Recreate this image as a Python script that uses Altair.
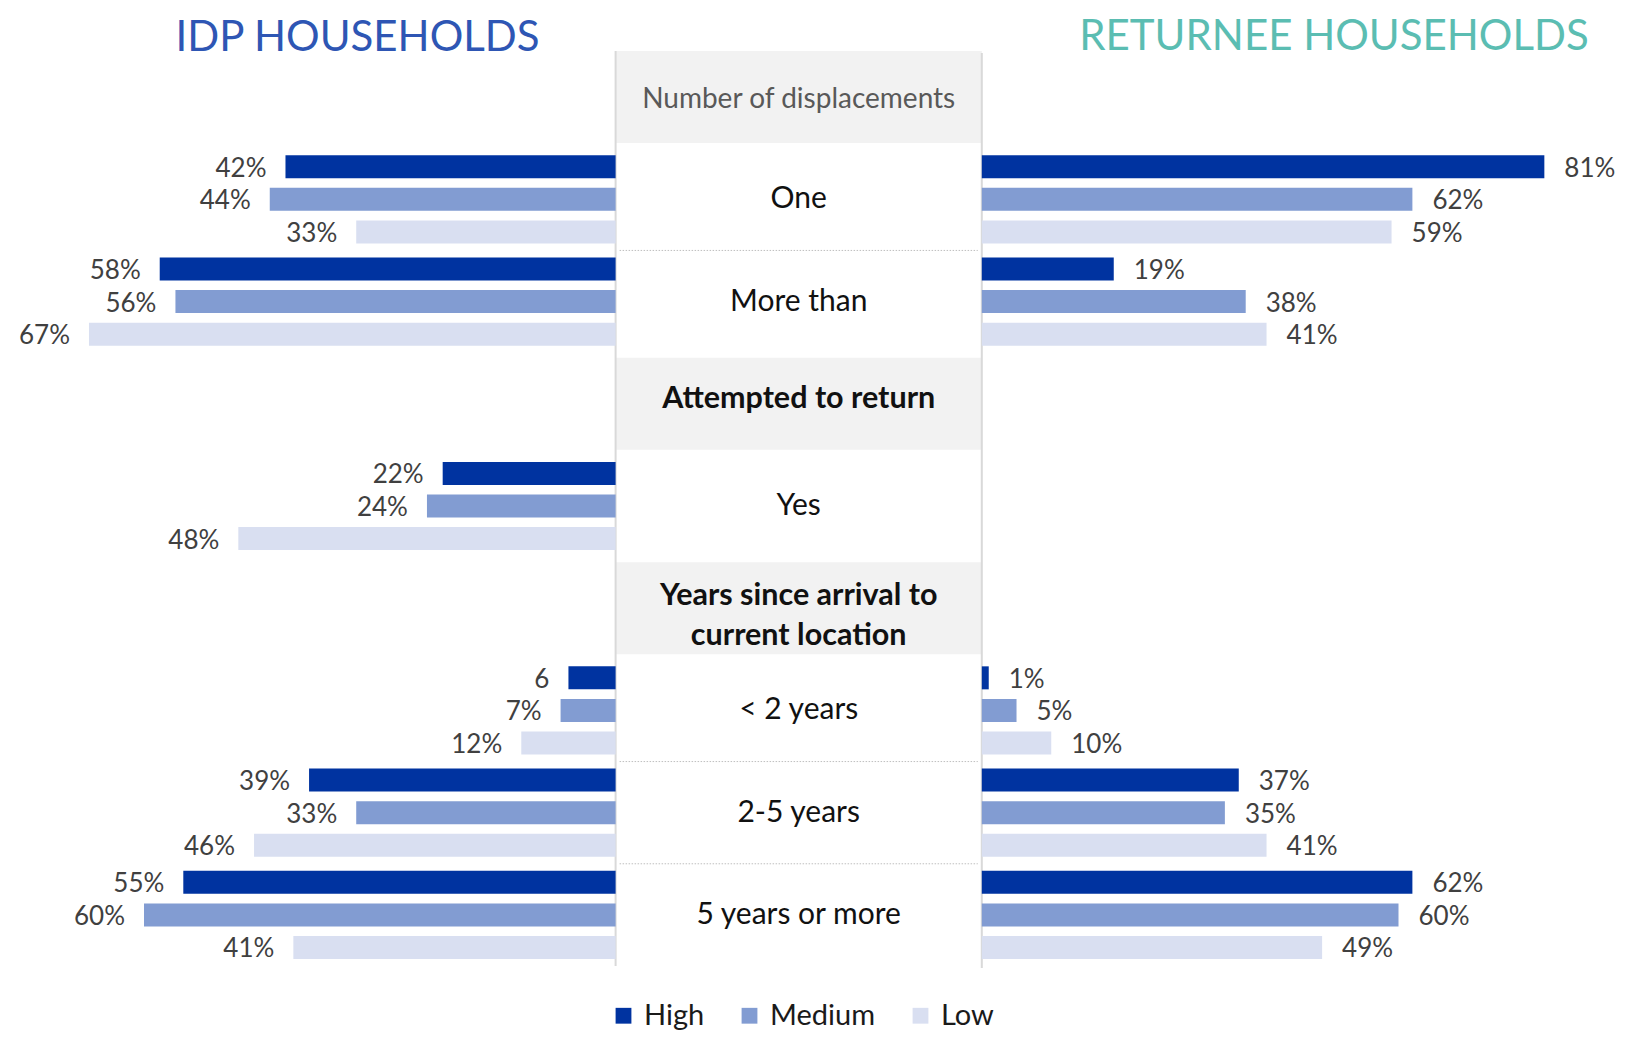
import altair as alt
import pandas as pd

# ---------------- data ----------------
rows = [
    "Number of displacements", "One", "More than",
    "Attempted to return", "Yes",
    "Years since arrival to current location", "< 2 years", "2-5 years", "5 years or more",
]
headers = ["Number of displacements", "Attempted to return", "Years since arrival to current location"]
header_text = ["Number of displacements", "Attempted to return", "Years since arrival to\ncurrent location"]
categories = ["One", "More than", "Yes", "< 2 years", "2-5 years", "5 years or more"]
levels = ["High", "Medium", "Low"]
colors = ["#0033A0", "#829CD2", "#D9DFF1"]

idp_high = [42, 58, 22, 6, 39, 55]
idp_medium = [44, 56, 24, 7, 33, 60]
idp_low = [33, 67, 48, 12, 46, 41]
idp_high_labels = ["42%", "58%", "22%", "6", "39%", "55%"]

ret_categories = ["One", "More than", "< 2 years", "2-5 years", "5 years or more"]
ret_high = [81, 19, 1, 37, 62]
ret_medium = [62, 38, 5, 35, 60]
ret_low = [59, 41, 10, 41, 49]

separators = ["More than", "2-5 years", "5 years or more"]

# ---------------- frames ----------------
idp_rows = []
for i, c in enumerate(categories):
    idp_rows.append({"row": c, "level": "High", "value": idp_high[i], "label": idp_high_labels[i]})
    idp_rows.append({"row": c, "level": "Medium", "value": idp_medium[i], "label": f"{idp_medium[i]}%"})
    idp_rows.append({"row": c, "level": "Low", "value": idp_low[i], "label": f"{idp_low[i]}%"})
idp_df = pd.DataFrame(idp_rows)

ret_rows = []
for i, c in enumerate(ret_categories):
    for lv, arr in zip(levels, [ret_high, ret_medium, ret_low]):
        ret_rows.append({"row": c, "level": lv, "value": arr[i], "label": f"{arr[i]}%"})
ret_df = pd.DataFrame(ret_rows)

hdr_df = pd.DataFrame({"row": headers, "text": header_text})
cat_df = pd.DataFrame({"row": categories})
sep_df = pd.DataFrame({"row": separators})

FONT = "Lato"
CL, CR = 607.6, 973.8          # centre panel edges (px)
CX = (CL + CR) / 2
yscale = alt.Scale(domain=rows, range=[38, 958], paddingInner=0, paddingOuter=0)
Y = alt.Y("row:N", scale=yscale, axis=None)
YOFF = alt.YOffset("level:N", sort=levels, scale=alt.Scale(domain=levels, paddingInner=0.294, paddingOuter=0.215))
COLOR = alt.Color(
    "level:N",
    scale=alt.Scale(domain=levels, range=colors),
    legend=alt.Legend(
        title=None, orient="none", legendX=601, legendY=993, direction="horizontal",
        symbolType="square", symbolSize=250, symbolStrokeWidth=0, labelFont=FONT,
        labelFontSize=29, labelColor="#1A1A1A", columnPadding=30, labelOffset=6,
    ),
)

# header backgrounds
hdr_bg = alt.Chart(hdr_df).mark_bar(color="#F2F2F2", height={"band": 0.9}).encode(
    y=Y, x=alt.value(CL), x2=alt.value(CR)
)
vline_l = alt.Chart(hdr_df.head(1)).mark_rule(color="#D9D9D9", strokeWidth=2).encode(
    x=alt.value(CL), y=alt.value(43), y2=alt.value(958)
)
vline_r = alt.Chart(hdr_df.head(1)).mark_rule(color="#D9D9D9", strokeWidth=2).encode(
    x=alt.value(CR), y=alt.value(45), y2=alt.value(960)
)
seps = alt.Chart(sep_df).mark_rule(color="#BFBFBF", strokeDash=[1.5, 1.5], strokeWidth=1).encode(
    y=alt.Y("row:N", scale=yscale, axis=None, bandPosition=0), x=alt.value(CL + 4), x2=alt.value(CR - 4)
)

hdr1 = alt.Chart(hdr_df.iloc[[0]]).mark_text(font=FONT, fontSize=28, color="#595959", dy=3).encode(
    y=Y, x=alt.value(CX), text="text:N"
)
hdr2 = alt.Chart(hdr_df.iloc[[1]]).mark_text(
    font=FONT, fontSize=30.5, fontWeight="bold", color="#111111", dy=-5
).encode(y=Y, x=alt.value(CX), text="text:N")
hdr3 = alt.Chart(hdr_df.iloc[[2]]).mark_text(
    font=FONT, fontSize=30.5, fontWeight="bold", color="#111111", lineBreak="\n", lineHeight=40, dy=-12
).encode(y=Y, x=alt.value(CX), text="text:N")
cats = alt.Chart(cat_df).mark_text(font=FONT, fontSize=30, color="#111111").encode(
    y=Y, x=alt.value(CX), text="row:N"
)

# IDP (left)
xl = alt.X("value:Q", scale=alt.Scale(domain=[0, 100], range=[CL, CL - 786]), axis=None)
idp_bars = alt.Chart(idp_df).mark_bar().encode(x=xl, y=Y, yOffset=YOFF, color=COLOR)
idp_text = alt.Chart(idp_df).mark_text(font=FONT, fontSize=26, color="#404040", align="right", dx=-19, dy=2).encode(
    x=xl, y=Y, yOffset=YOFF, text="label:N"
)

# Returnee (right)
xr = alt.X("value:Q", scale=alt.Scale(domain=[0, 100], range=[CR, CR + 694.5]), axis=None)
ret_bars = alt.Chart(ret_df).mark_bar().encode(x=xr, y=Y, yOffset=YOFF, color=COLOR)
ret_text = alt.Chart(ret_df).mark_text(font=FONT, fontSize=26, color="#404040", align="left", dx=20, dy=2).encode(
    x=xr, y=Y, yOffset=YOFF, text="label:N"
)

title_df = pd.DataFrame({"t": ["IDP HOUSEHOLDS"]})
title_l = alt.Chart(title_df).mark_text(font=FONT, fontSize=42, color="#2E56B4", baseline="alphabetic").encode(
    x=alt.value(349.5), y=alt.value(43), text="t:N"
)
title_df2 = pd.DataFrame({"t": ["RETURNEE HOUSEHOLDS"]})
title_r = alt.Chart(title_df2).mark_text(font=FONT, fontSize=42, color="#5BBDB2", baseline="alphabetic").encode(
    x=alt.value(1326), y=alt.value(42), text="t:N"
)

chart = alt.layer(
    hdr_bg, seps, vline_l, vline_r, hdr1, hdr2, hdr3, cats,
    idp_bars, idp_text, ret_bars, ret_text, title_l, title_r,
).resolve_scale(x="independent").properties(
    width=1634, height=1026, autosize="none", padding=0
).configure_view(stroke=None)

chart.save("out.html", embed_options={"renderer": "svg", "actions": False})
